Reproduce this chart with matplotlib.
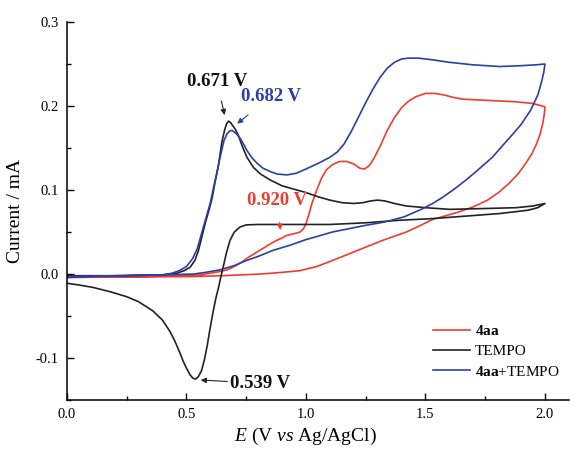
import matplotlib
matplotlib.use("Agg")
import matplotlib.pyplot as plt
from matplotlib.ticker import MultipleLocator

plt.rcParams['font.family'] = ['Liberation Serif', 'DejaVu Serif']
plt.rcParams['mathtext.fontset'] = 'custom'
plt.rcParams['mathtext.rm'] = 'Liberation Serif'
plt.rcParams['mathtext.it'] = 'Liberation Serif:italic'
plt.rcParams['mathtext.bf'] = 'Liberation Serif:bold'

# ---- data (E in V vs Ag/AgCl, I in mA) ----
tempo_E = [0.0, 0.2, 0.4, 0.46, 0.49, 0.515, 0.535, 0.55, 0.565, 0.58, 0.595, 0.607, 0.62, 0.633, 0.648,
           0.66, 0.668, 0.676, 0.685, 0.695, 0.705, 0.717, 0.735, 0.753, 0.78, 0.81, 0.85, 0.9, 0.95, 1.0,
           1.05, 1.1, 1.15, 1.2, 1.24, 1.27, 1.3, 1.33, 1.37, 1.42, 1.5, 1.6, 1.75, 1.88, 1.95, 2.0,
           1.97, 1.93, 1.81, 1.67, 1.53, 1.39, 1.25, 1.1, 0.95, 0.8, 0.75, 0.724, 0.70, 0.682, 0.667, 0.655,
           0.645, 0.635, 0.622, 0.61, 0.598, 0.587, 0.575, 0.563, 0.55, 0.539, 0.527, 0.515, 0.5, 0.485,
           0.47, 0.45, 0.43, 0.4, 0.36, 0.3, 0.25, 0.18, 0.11, 0.05, 0.0]
tempo_I = [-0.002, -0.002, -0.001, 0.001, 0.004, 0.008, 0.016, 0.028, 0.045, 0.062, 0.077, 0.09, 0.11,
           0.128, 0.157, 0.172, 0.179, 0.182, 0.18, 0.176, 0.172, 0.165, 0.151, 0.139, 0.127, 0.119, 0.112,
           0.105, 0.101, 0.097, 0.092, 0.088, 0.085, 0.084, 0.085, 0.087, 0.088, 0.087, 0.084, 0.081, 0.079,
           0.077, 0.078, 0.079, 0.081, 0.084,
           0.079, 0.076, 0.072, 0.069, 0.066, 0.064, 0.061, 0.059, 0.059, 0.059, 0.0585, 0.056, 0.05, 0.04,
           0.025, 0.01, -0.002, -0.015, -0.03, -0.047, -0.066, -0.085, -0.102, -0.115, -0.122, -0.125, -0.124,
           -0.12, -0.112, -0.103, -0.092, -0.079, -0.068, -0.055, -0.044, -0.033, -0.027, -0.021, -0.016,
           -0.013, -0.011]

mix_E = [0.0, 0.2, 0.4, 0.44, 0.47, 0.5, 0.525, 0.545, 0.56, 0.58, 0.6, 0.611, 0.625, 0.64, 0.657, 0.67,
         0.68, 0.69, 0.70, 0.712, 0.724, 0.74, 0.753, 0.775, 0.795, 0.82, 0.85, 0.88, 0.92, 0.96, 1.0, 1.06,
         1.1, 1.13, 1.16, 1.19, 1.22, 1.25, 1.28, 1.31, 1.34, 1.37, 1.40, 1.43, 1.47, 1.53, 1.6, 1.7, 1.81,
         1.9, 1.96, 2.0,
         1.995, 1.985, 1.97, 1.94, 1.9, 1.87, 1.82, 1.78, 1.72, 1.67, 1.62, 1.57, 1.53, 1.49, 1.45, 1.41,
         1.37, 1.33, 1.25, 1.18, 1.11, 1.05, 1.0, 0.93, 0.86, 0.8, 0.75, 0.7, 0.64, 0.58, 0.53, 0.4, 0.25,
         0.0]
mix_I = [-0.003, -0.002, -0.001, 0.001, 0.004, 0.009, 0.018, 0.03, 0.045, 0.065, 0.085, 0.1, 0.118, 0.138,
         0.159, 0.167, 0.17, 0.171, 0.169, 0.166, 0.162, 0.154, 0.147, 0.138, 0.132, 0.126, 0.122, 0.119,
         0.118, 0.12, 0.125, 0.133, 0.139, 0.145, 0.155, 0.17, 0.187, 0.204, 0.22, 0.234, 0.245, 0.252,
         0.256, 0.257, 0.257, 0.255, 0.252, 0.249, 0.247, 0.248, 0.249, 0.250,
         0.24, 0.228, 0.213, 0.195, 0.178, 0.168, 0.152, 0.139, 0.124, 0.112, 0.101, 0.091, 0.084, 0.078,
         0.073, 0.068, 0.065, 0.062, 0.058, 0.054, 0.050, 0.045, 0.041, 0.034, 0.028, 0.021, 0.016, 0.01,
         0.005, 0.002, 0.0, -0.001, -0.002, -0.004]

aa_E = [0.0, 0.3, 0.5, 0.56, 0.6, 0.64, 0.67, 0.7, 0.73, 0.76, 0.8, 0.84, 0.87, 0.9, 0.92, 0.95, 0.975,
        0.99, 1.0, 1.01, 1.025, 1.045, 1.065, 1.085, 1.11, 1.14, 1.17, 1.2, 1.225, 1.245, 1.265, 1.285, 1.31,
        1.34, 1.37, 1.4, 1.43, 1.46, 1.5, 1.54, 1.58, 1.62, 1.66, 1.74, 1.88, 1.95, 2.0,
        1.997, 1.99, 1.98, 1.965, 1.945, 1.92, 1.89, 1.85, 1.81, 1.76, 1.7, 1.64, 1.58, 1.53, 1.48, 1.42,
        1.37, 1.32, 1.25, 1.18, 1.11, 1.045, 0.975, 0.9, 0.81, 0.65, 0.53, 0.0]
aa_I = [-0.004, -0.003, -0.002, -0.001, 0.001, 0.003, 0.005, 0.009, 0.014, 0.02, 0.027, 0.034, 0.039,
        0.043, 0.046, 0.048, 0.05, 0.054, 0.06, 0.069, 0.084, 0.1, 0.114, 0.124, 0.13, 0.134, 0.134, 0.131,
        0.126, 0.125, 0.129, 0.138, 0.152, 0.171, 0.186, 0.198, 0.206, 0.211, 0.215, 0.215, 0.213, 0.21,
        0.208, 0.207, 0.205, 0.203, 0.199,
        0.19, 0.178, 0.167, 0.155, 0.143, 0.132, 0.12, 0.108, 0.098, 0.088, 0.08, 0.074, 0.069, 0.065,
        0.058, 0.05, 0.045, 0.04, 0.032, 0.024, 0.016, 0.009, 0.004, 0.002, 0.0, -0.002, -0.003, -0.004]

labels = [r'$\mathbf{4aa}$', 'TEMPO', r'$\mathbf{4aa}$+TEMPO']
colors = ['#f03c2f', '#222222', '#2b3fa6']

fig = plt.figure(figsize=(5.70, 4.49), dpi=100)
ax = fig.add_axes([0.1175, 0.109, 0.8805, 0.842])

ax.plot(aa_E, aa_I, color=colors[0], lw=1.2, label=labels[0])
ax.plot(tempo_E, tempo_I, color=colors[1], lw=1.2, label=labels[1])
ax.plot(mix_E, mix_I, color=colors[2], lw=1.2, label=labels[2])

ax.set_xlim(0, 2.1)
ax.set_ylim(-0.15, 0.3)
ax.xaxis.set_minor_locator(MultipleLocator(0.25))
ax.yaxis.set_minor_locator(MultipleLocator(0.05))
ax.set_xticks([0, 0.5, 1.0, 1.5, 2.0])
ax.set_xticklabels(['0.0', '0.5', '1.0', '1.5', '2.0'])
ax.set_yticks([-0.1, 0.0, 0.1, 0.2, 0.3])
ax.set_yticklabels(['-0.1', '0.0', '0.1', '0.2', '0.3'])
ax.tick_params(which='major', direction='in', length=5, width=1, labelsize=10.5, pad=6)
ax.tick_params(which='minor', direction='in', length=3, width=1)
for s in ['top', 'right']:
    ax.spines[s].set_visible(False)
for s in ['left', 'bottom']:
    ax.spines[s].set_linewidth(1.1)

ax.set_xlabel(r'$E$ (V $vs$ Ag/AgCl)', fontsize=14)
ax.xaxis.set_label_coords(0.476, -0.068)
ax.set_ylabel('Current / mA', fontsize=14, labelpad=8)

ap = dict(arrowstyle='-|>', color='#222222', lw=0.8, mutation_scale=8)
ax.annotate('0.671 V', xy=(0.662, 0.186), xytext=(0.628, 0.229), ha='center', va='center',
            fontsize=13.5, fontweight='bold', color='#111111',
            arrowprops=dict(ap, shrinkA=6))
ax.annotate('0.682 V', xy=(0.703, 0.177), xytext=(0.854, 0.211), ha='center', va='center',
            fontsize=13.5, fontweight='bold', color=colors[2],
            arrowprops=dict(ap, color=colors[2], shrinkA=8))
ax.annotate('0.920 V', xy=(0.895, 0.049), xytext=(0.878, 0.088), ha='center', va='center',
            fontsize=13.5, fontweight='bold', color=colors[0],
            arrowprops=dict(ap, color=colors[0], shrinkA=8))
ax.annotate('0.539 V', xy=(0.548, -0.126), xytext=(0.808, -0.130), ha='center', va='center',
            fontsize=13.5, fontweight='bold', color='#111111',
            arrowprops=dict(ap, shrinkA=34))

ax.legend(loc='lower right', bbox_to_anchor=(1.008, 0.02), frameon=False, fontsize=11,
          handlelength=2.4, handletextpad=0.3, labelspacing=0.42)

fig.savefig('out.png', dpi=100)
